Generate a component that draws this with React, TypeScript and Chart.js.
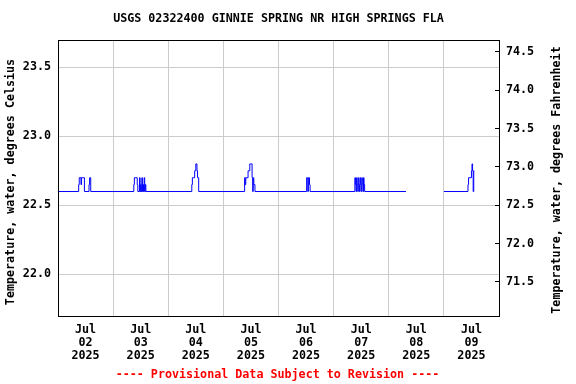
import React, { useEffect, useRef } from "react";
import { Chart, registerables } from "chart.js";

Chart.register(...registerables);

const siteTitle = "USGS 02322400 GINNIE SPRING NR HIGH SPRINGS FLA";
const footerText = "---- Provisional Data Subject to Revision ----";
const leftAxisTitle = "Temperature, water, degrees Celsius";
const rightAxisTitle = "Temperature, water, degrees Fahrenheit";

const monthLabel = "Jul";
const yearLabel = "2025";
const dayLabels = ["02", "03", "04", "05", "06", "07", "08", "09"];

const celsiusMin = 21.698;
const celsiusMax = 23.698;
const celsiusTicks = [22.0, 22.5, 23.0, 23.5];
const fahrenheitTicks = [71.5, 72.0, 72.5, 73.0, 73.5, 74.0, 74.5];

// Observations (value changes), times as "MM-DD hh:mm" in July 2025
const obsTimes = [
  "07-02 00:00", "07-02 09:00", "07-02 09:15", "07-02 10:00", "07-02 10:15", "07-02 11:30",
  "07-02 13:30", "07-02 13:45", "07-02 14:15",
  "07-03 09:00", "07-03 09:15", "07-03 10:30", "07-03 10:45", "07-03 11:30", "07-03 11:45",
  "07-03 12:00", "07-03 12:15", "07-03 12:30", "07-03 12:45", "07-03 13:00", "07-03 13:15",
  "07-03 13:30", "07-03 13:45", "07-03 14:00", "07-03 14:15",
  "07-04 10:15", "07-04 10:30", "07-04 11:30", "07-04 12:00", "07-04 12:30", "07-04 12:45",
  "07-04 13:15",
  "07-05 09:15", "07-05 09:30", "07-05 09:45", "07-05 10:45", "07-05 11:30", "07-05 12:30",
  "07-05 12:45", "07-05 13:00", "07-05 13:15", "07-05 13:45",
  "07-06 12:15", "07-06 12:45", "07-06 13:00", "07-06 13:30", "07-06 13:45",
  "07-07 09:15", "07-07 09:30", "07-07 09:45", "07-07 10:00", "07-07 10:15", "07-07 10:30",
  "07-07 10:45", "07-07 11:00", "07-07 11:15", "07-07 11:30", "07-07 11:45", "07-07 12:00",
  "07-07 12:15", "07-07 12:30", "07-07 12:45", "07-07 13:00", "07-07 13:15", "07-07 13:30",
  "07-08 07:30", "07-08 07:45",
  "07-09 00:00", "07-09 10:30", "07-09 10:45", "07-09 12:00", "07-09 12:15", "07-09 12:30",
  "07-09 12:45", "07-09 13:00", "07-09 13:15",
];

const obsTempC: (number | null)[] = [
  22.6, 22.65, 22.7, 22.65, 22.7, 22.6,
  22.65, 22.7, 22.6,
  22.65, 22.7, 22.65, 22.6, 22.7, 22.6,
  22.65, 22.6, 22.7, 22.6, 22.65, 22.6,
  22.7, 22.6, 22.65, 22.6,
  22.65, 22.7, 22.75, 22.8, 22.75, 22.7,
  22.6,
  22.7, 22.65, 22.7, 22.75, 22.8, 22.7,
  22.6, 22.7, 22.65, 22.6,
  22.7, 22.6, 22.7, 22.65, 22.6,
  22.7, 22.65, 22.6, 22.7, 22.65, 22.6,
  22.7, 22.65, 22.6, 22.7, 22.65, 22.6,
  22.7, 22.65, 22.6, 22.7, 22.65, 22.6,
  22.6, null,
  22.6, 22.65, 22.7, 22.75, 22.8, 22.75,
  22.6, 22.75, 22.75,
];

const FONT_FAMILY = '"DejaVu Sans Mono", monospace';
const FONT_SIZE = 11.7;

function hoursSinceStart(t: string): number {
  const [md, hm] = t.split(" ");
  const day = parseInt(md.split("-")[1], 10);
  const [hh, mm] = hm.split(":").map((s) => parseInt(s, 10));
  return (day - 2) * 24 + hh + mm / 60;
}

const textPlugin = {
  id: "usgsText",
  afterDraw(chart: any) {
    const { ctx, chartArea: a } = chart;
    ctx.save();
    ctx.strokeStyle = "#000000";
    ctx.lineWidth = 1;
    ctx.strokeRect(
      Math.floor(a.left) + 0.5,
      Math.floor(a.top) + 0.5,
      Math.round(a.right - a.left),
      Math.round(a.bottom - a.top)
    );
    ctx.font = `bold ${FONT_SIZE}px ${FONT_FAMILY}`;
    ctx.textAlign = "center";
    ctx.textBaseline = "middle";
    ctx.fillStyle = "#000000";
    ctx.fillText(siteTitle, (a.left + a.right) / 2, 19);
    ctx.fillStyle = "#ff0000";
    ctx.fillText(footerText, (a.left + a.right) / 2 - 1, 375);
    ctx.fillStyle = "#000000";
    ctx.save();
    ctx.translate(11, 182);
    ctx.rotate(-Math.PI / 2);
    ctx.fillText(leftAxisTitle, 0, 0);
    ctx.restore();
    ctx.save();
    ctx.translate(557, 180);
    ctx.rotate(-Math.PI / 2);
    ctx.fillText(rightAxisTitle, 0, 0);
    ctx.restore();
    ctx.restore();
  },
};

export default function App() {
  const canvasRef = useRef<HTMLCanvasElement | null>(null);

  useEffect(() => {
    if (!canvasRef.current) return;
    const points = obsTimes.map((t, i) => ({ x: hoursSinceStart(t), y: obsTempC[i] }));
    const tickFont = { family: FONT_FAMILY, size: FONT_SIZE, weight: "bold" as const, lineHeight: 13 / FONT_SIZE };
    const xTickValues = Array.from({ length: 17 }, (_, i) => i * 12);

    const chart = new Chart(canvasRef.current, {
      type: "line",
      data: {
        datasets: [
          {
            data: points as any,
            borderColor: "#0000ff",
            borderWidth: 1,
            pointRadius: 0,
            stepped: true,
            spanGaps: false,
            fill: false,
            yAxisID: "y",
          },
        ],
      },
      options: {
        animation: false,
        responsive: false,
        devicePixelRatio: 1,
        layout: { padding: { top: 40, left: 0, right: 0, bottom: 0 } },
        plugins: {
          legend: { display: false },
          title: { display: false },
          tooltip: { enabled: false },
        },
        scales: {
          x: {
            type: "linear",
            min: 0,
            max: 192,
            afterBuildTicks: (scale: any) => {
              scale.ticks = xTickValues.map((v) => ({ value: v }));
            },
            afterFit: (scale: any) => {
              scale.height = 68;
            },
            ticks: {
              autoSkip: false,
              maxRotation: 0,
              minRotation: 0,
              padding: 7.5,
              color: "#000000",
              font: tickFont,
              callback: (value: any) => {
                const v = Number(value);
                if (v % 24 === 12) {
                  const d = Math.floor(v / 24);
                  return [monthLabel, dayLabels[d], yearLabel];
                }
                return "";
              },
            },
            grid: {
              drawTicks: false,
              color: (ctx: any) => {
                const v = ctx.tick ? ctx.tick.value : -1;
                return v % 24 === 0 && v > 0 && v < 192 ? "#cccccc" : "rgba(0,0,0,0)";
              },
            },
            border: { display: true, color: "#000000" },
          },
          y: {
            type: "linear",
            position: "left",
            min: celsiusMin,
            max: celsiusMax,
            afterBuildTicks: (scale: any) => {
              scale.ticks = celsiusTicks.map((v) => ({ value: v }));
            },
            afterFit: (scale: any) => {
              scale.width = 58;
            },
            ticks: {
              padding: 7,
              color: "#000000",
              font: tickFont,
              callback: (value: any) => Number(value).toFixed(1),
            },
            grid: { drawTicks: false, color: "#cccccc" },
            border: { display: true, color: "#000000" },
          },
          y1: {
            type: "linear",
            position: "right",
            min: celsiusMin * 1.8 + 32,
            max: celsiusMax * 1.8 + 32,
            afterBuildTicks: (scale: any) => {
              scale.ticks = fahrenheitTicks.map((v) => ({ value: v }));
            },
            afterFit: (scale: any) => {
              scale.width = 77;
            },
            ticks: {
              padding: 11,
              color: "#000000",
              font: tickFont,
              callback: (value: any) => Number(value).toFixed(1),
            },
            grid: {
              drawOnChartArea: false,
              drawTicks: true,
              tickLength: -4,
              color: "#000000",
            },
            border: { display: true, color: "#000000" },
          },
        },
      },
      plugins: [textPlugin],
    });

    return () => {
      chart.destroy();
    };
  }, []);

  return (
    <div style={{ position: "fixed", left: 0, top: 0, width: 576, height: 384, background: "#ffffff" }}>
      <canvas ref={canvasRef} width={576} height={384} style={{ display: "block", width: 576, height: 384 }} />
    </div>
  );
}
